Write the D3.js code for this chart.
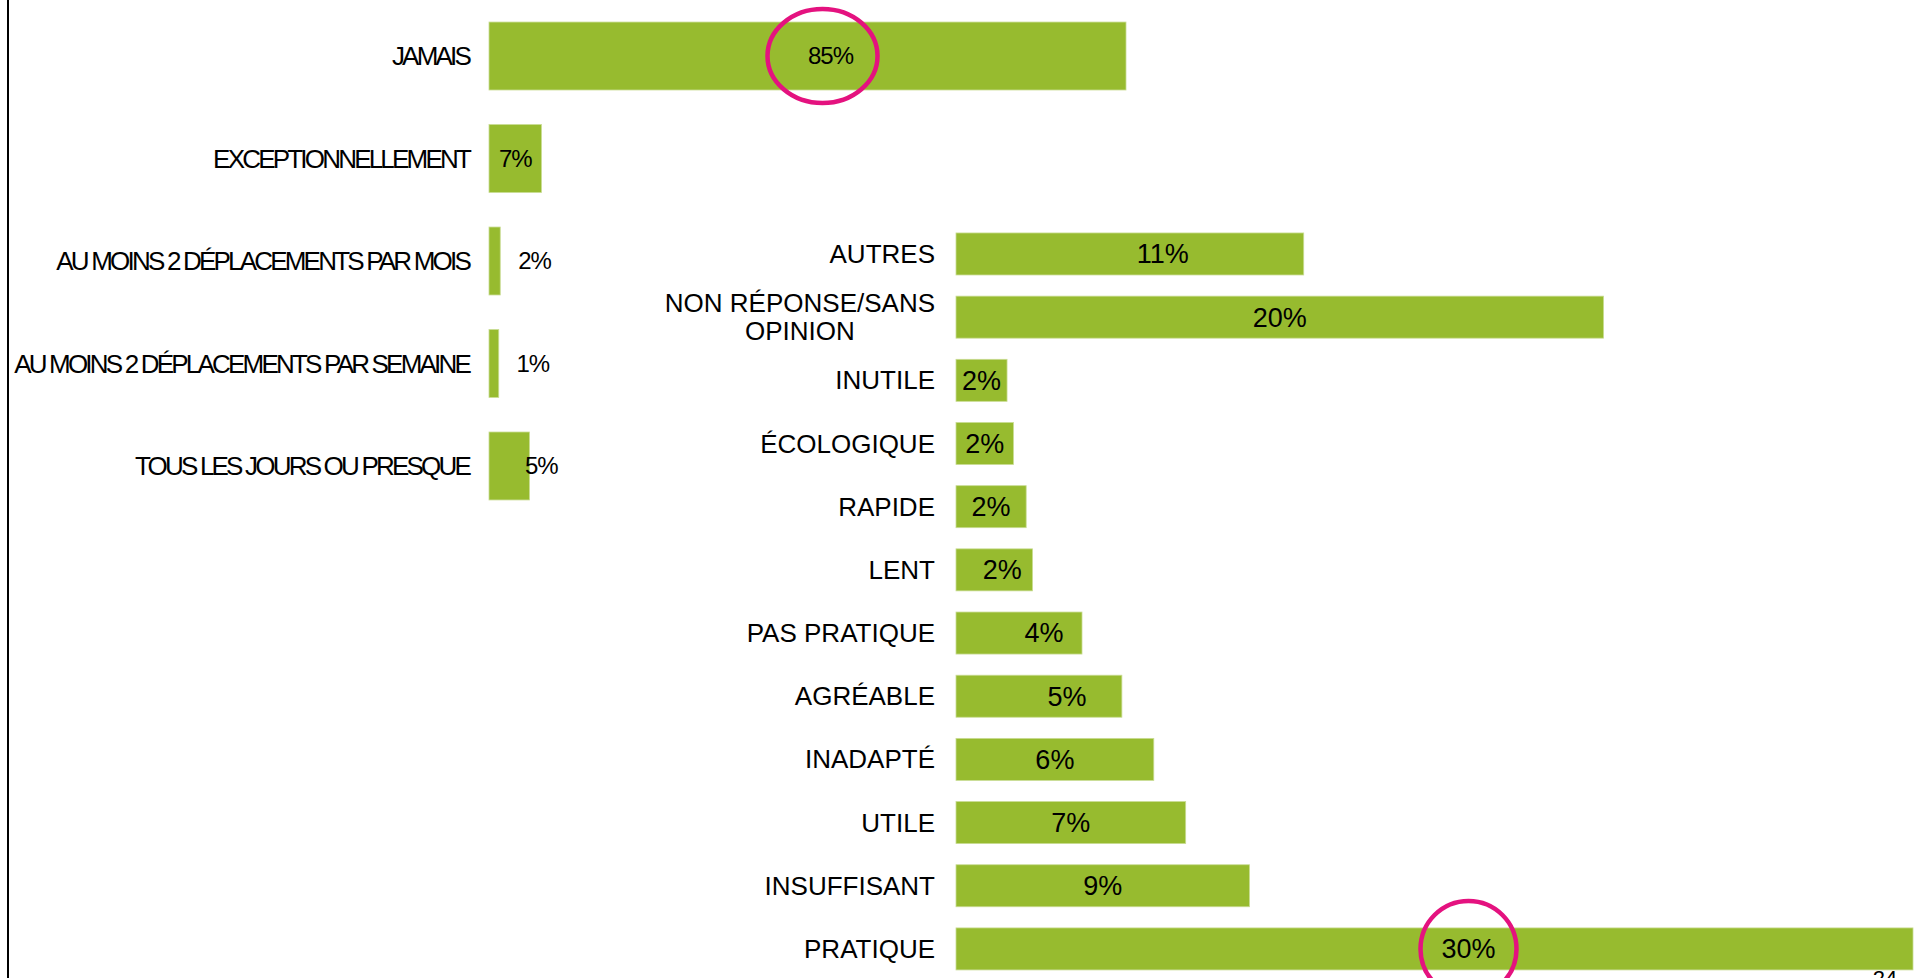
<!DOCTYPE html>
<html lang="fr">
<head>
<meta charset="UTF-8">
<title>Fréquence et perception</title>
<style>
  body { margin: 0; background: #fff; }
  svg { display: block; font-family: "Liberation Sans", Arial, sans-serif; }
  .cat { fill: #000; font-size: 26px; }
  .top .cat { letter-spacing: -2.8px; }
  .val { fill: #000; text-anchor: middle; }
  .top .val { font-size: 24px; letter-spacing: -1px; }
  .right .val { font-size: 27px; }
  .bar { fill: #97bb2f; stroke: #c9dc93; stroke-width: 0.8; }
  .ring { fill: none; stroke: #e4127f; stroke-width: 4.5; }
</style>
</head>
<body>
<svg width="1917" height="978"></svg>
<script src="https://d3js.org/d3.v7.min.js"></script>
<script>

// frequence d'utilisation (haut, gauche)
var topCats = ["JAMAIS", "EXCEPTIONNELLEMENT", "AU MOINS 2 DÉPLACEMENTS PAR MOIS",
               "AU MOINS 2 DÉPLACEMENTS PAR SEMAINE", "TOUS LES JOURS OU PRESQUE"];
var topValues = [85, 7, 1.5, 1.3, 5.4];

// qualificatifs (droite)
var rightCats = ["AUTRES", "NON RÉPONSE/SANS|OPINION", "INUTILE", "ÉCOLOGIQUE", "RAPIDE", "LENT",
                 "PAS PRATIQUE", "AGRÉABLE", "INADAPTÉ", "UTILE", "INSUFFISANT", "PRATIQUE"];
var rightValues = [10.9, 20.3, 1.6, 1.8, 2.2, 2.4, 3.95, 5.2, 6.2, 7.2, 9.2, 30];

// labels that were dragged off-centre in the original (px)
var topNudge = [23, 0, 40, 39, 32];
var rightNudge = [33, 0, 0, 0, 0, 8, 25, 28, 0, 0, 0, 34];

// highlighted labels
var rings = [{chart: "top", i: 0, dx: -8, rx: 55, ry: 47},
             {chart: "right", i: 11, dx: 0, rx: 48, ry: 48}];

var svg = d3.select("svg");
var fmt = function (v) { return Math.round(v) + "%"; };

// left frame line
svg.append("line")
    .attr("x1", 8).attr("x2", 8)
    .attr("y1", 0).attr("y2", 978)
    .attr("stroke", "#000").attr("stroke-width", 2);

var xTop = d3.scaleLinear().domain([0, 85]).range([489, 1126]);
var yTop = d3.scaleBand().domain(topCats).range([-12.5, 534.5]).padding(0.337);

var xRight = d3.scaleLinear().domain([0, 30]).range([956, 1913]);
var yRight = d3.scaleBand().domain(rightCats).range([211.8, 991.1]).padding(0.335);

function drawChart(cls, cats, values, nudge, x, y, labelX) {
    var g = svg.append("g").attr("class", cls);

    g.selectAll(".bar")
        .data(cats)
        .join("rect")
        .attr("class", "bar")
        .attr("x", x(0))
        .attr("y", function (d) { return y(d); })
        .attr("width", function (d, i) { return x(values[i]) - x(0); })
        .attr("height", y.bandwidth());

    // category labels, wrapped ones centred on their widest line
    g.selectAll(".cat")
        .data(cats)
        .join("text")
        .attr("class", "cat")
        .each(function (d) {
            var t = d3.select(this),
                lines = d.split("|"),
                cy = y(d) + y.bandwidth() / 2,
                lh = 28;
            lines.forEach(function (s, k) {
                t.append("tspan")
                    .attr("y", cy + (k - (lines.length - 1) / 2) * lh)
                    .attr("dy", "0.35em")
                    .text(s);
            });
            if (lines.length === 1) {
                t.attr("text-anchor", "end").selectAll("tspan").attr("x", labelX);
            } else {
                var w = d3.max(t.selectAll("tspan").nodes(), function (n) { return n.getComputedTextLength(); });
                t.attr("text-anchor", "middle").selectAll("tspan").attr("x", labelX - w / 2);
            }
        });

    g.selectAll(".val")
        .data(cats)
        .join("text")
        .attr("class", "val")
        .attr("x", function (d, i) { return (x(0) + x(values[i])) / 2 + nudge[i]; })
        .attr("y", function (d) { return y(d) + y.bandwidth() / 2; })
        .attr("dy", "0.35em")
        .text(function (d, i) { return fmt(values[i]); });

    return g;
}

drawChart("top", topCats, topValues, topNudge, xTop, yTop, 469);
drawChart("right", rightCats, rightValues, rightNudge, xRight, yRight, 935);

rings.forEach(function (r) {
    var cats = r.chart === "top" ? topCats : rightCats,
        vals = r.chart === "top" ? topValues : rightValues,
        nud = r.chart === "top" ? topNudge : rightNudge,
        x = r.chart === "top" ? xTop : xRight,
        y = r.chart === "top" ? yTop : yRight,
        d = cats[r.i];
    svg.append("ellipse")
        .attr("class", "ring")
        .attr("cx", (x(0) + x(vals[r.i])) / 2 + nud[r.i] + r.dx)
        .attr("cy", y(d) + y.bandwidth() / 2)
        .attr("rx", r.rx)
        .attr("ry", r.ry);
});

// page number, cut by the bottom edge as in the slide
svg.append("text")
    .attr("x", 1885)
    .attr("y", 986)
    .attr("text-anchor", "middle")
    .attr("font-size", 22)
    .text("24");

</script>
</body>
</html>
